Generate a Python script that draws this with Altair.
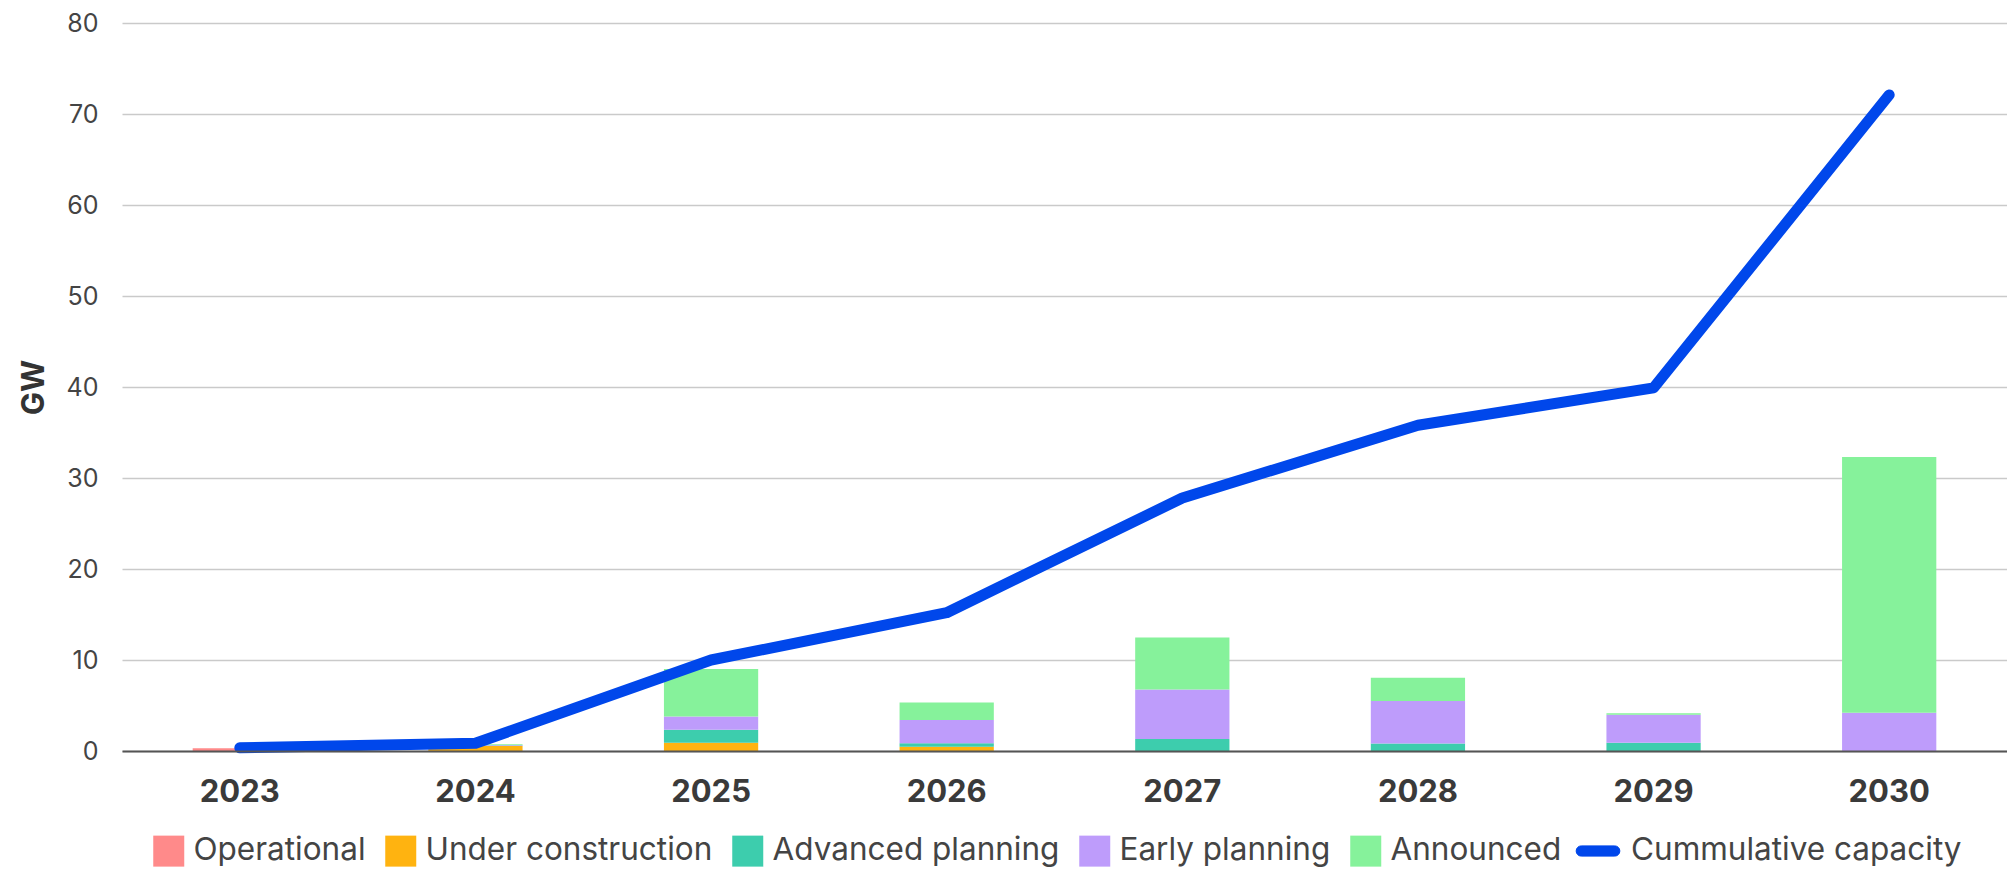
import altair as alt
import pandas as pd

years = ["2023", "2024", "2025", "2026", "2027", "2028", "2029", "2030"]

operational = [0.3, 0.0, 0.0, 0.0, 0.0, 0.0, 0.0, 0.0]
under_construction = [0.0, 0.55, 0.9, 0.48, 0.0, 0.0, 0.0, 0.0]
advanced_planning = [0.0, 0.05, 1.44, 0.36, 1.33, 0.83, 0.9, 0.0]
early_planning = [0.0, 0.05, 1.44, 2.56, 5.43, 4.66, 3.07, 4.2]
announced = [0.0, 0.1, 5.23, 1.94, 5.7, 2.56, 0.18, 28.1]
cumulative = [0.35, 0.85, 10.0, 15.2, 27.8, 35.8, 39.9, 72.1]

statuses = ["Operational", "Under construction", "Advanced planning", "Early planning", "Announced"]
line_label = "Cummulative capacity"
bar_colors = ["#FF8A8A", "#FFB310", "#3DCDAD", "#BE9CFB", "#86F29B"]
line_color = "#0047EB"
y_ticks = [0, 10, 20, 30, 40, 50, 60, 70, 80]

series_values = [operational, under_construction, advanced_planning, early_planning, announced]
rows = []
for i, (s, vals) in enumerate(zip(statuses, series_values)):
    for yr, v in zip(years, vals):
        rows.append({"year": yr, "status": s, "gw": v, "order": i})
bars_df = pd.DataFrame(rows)
line_df = pd.DataFrame({"year": years, "gw": cumulative, "series": line_label})

pill = "M-1.08,-0.33 L1.08,-0.33 A0.33,0.33 0 0 1 1.08,0.33 L-1.08,0.33 A0.33,0.33 0 0 1 -1.08,-0.33 Z"

x_enc = alt.X(
    "year:N",
    sort=years,
    scale=alt.Scale(paddingInner=0.6, paddingOuter=0.3),
    axis=alt.Axis(
        title=None,
        labelAngle=0,
        labelFont="Inter",
        labelFontSize=31,
        labelFontWeight="bold",
        labelColor="#3a3a3a",
        labelPadding=26,
        ticks=False,
        grid=False,
        domainColor="#555555",
        domainWidth=2,
        zindex=1,
    ),
)

y_enc = alt.Y(
    "gw:Q",
    stack="zero",
    scale=alt.Scale(domain=[0, 80], nice=False),
    axis=alt.Axis(
        title="GW",
        values=y_ticks,
        labelFont="Inter",
        labelFontSize=25,
        labelColor="#444444",
        labelPadding=24,
        ticks=False,
        domain=False,
        gridColor="#cacaca",
        gridWidth=1.5,
        titleFont="Inter",
        titleFontSize=31,
        titleFontWeight="bold",
        titleColor="#333333",
        titleAngle=270,
        titleX=-88,
        titleY=364,
        titleAlign="center",
        titleBaseline="middle",
    ),
)

legend_common = dict(
    title=None,
    orient="none",
    direction="horizontal",
    labelFont="Inter",
    labelFontSize=31.5,
    labelColor="#444444",
    labelLimit=600,
    columnPadding=19,
    padding=0,
    symbolSize=961,
)

bars = alt.Chart(bars_df).mark_bar().encode(
    x=x_enc,
    y=y_enc,
    color=alt.Color(
        "status:N",
        scale=alt.Scale(domain=statuses, range=bar_colors),
        legend=alt.Legend(
            legendX=31, legendY=812, columns=5, symbolType="square",
            symbolStrokeWidth=0, labelOffset=9, **legend_common
        ),
    ),
    order=alt.Order("order:Q", sort="ascending"),
)

line = alt.Chart(line_df).mark_line(
    strokeWidth=11, strokeCap="round", strokeJoin="round"
).encode(
    x=alt.X("year:N", sort=years),
    y=alt.Y("gw:Q"),
    color=alt.Color(
        "series:N",
        scale=alt.Scale(domain=[line_label], range=[line_color]),
        legend=alt.Legend(
            legendX=1460, legendY=812, symbolType=pill,
            symbolFillColor=line_color, symbolStrokeColor=line_color,
            symbolStrokeWidth=1, labelOffset=17, **legend_common
        ),
    ),
)

chart = (
    alt.layer(bars, line)
    .resolve_scale(color="independent")
    .properties(
        width=1885,
        height=728,
        padding={"left": 114, "top": 15, "right": 0, "bottom": 119},
        autosize=alt.AutoSizeParams(type="none"),
    )
    .configure_view(stroke=None)
)

chart.save("out.html", embed_options={"renderer": "svg", "actions": False})
